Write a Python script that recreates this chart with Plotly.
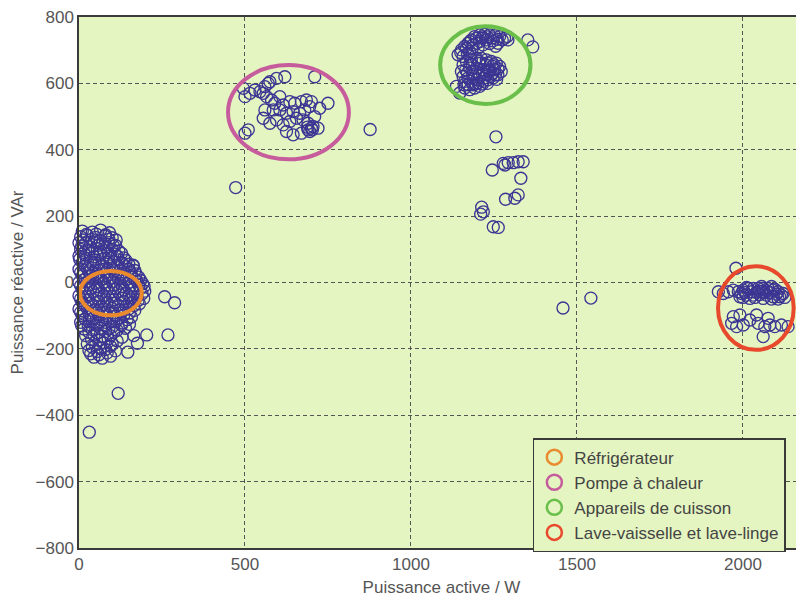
import plotly.graph_objects as go

# ---------------- data ----------------
fridge_pts = [
    (10,155),(40,152),(65,158),(92,150),
    (5,138),(25,142),(50,136),(78,140),(100,135),(112,128),
    (0,120),(20,118),(45,122),(70,116),(90,120),(110,112),
    (5,100),(30,98),(55,102),(75,96),(100,100),(120,95),
    (0,80),(20,82),(45,78),(65,84),(90,78),(115,80),(135,74),
    (10,60),(35,62),(60,58),(85,60),(105,64),(130,58),(150,55),(163,52),
    (0,40),(25,42),(50,38),(75,40),(100,42),(125,38),(150,40),(168,36),
    (10,20),(35,22),(60,18),(85,20),(110,22),(135,18),(160,20),(180,16),
    (0,0),(25,2),(50,-2),(75,0),(100,2),(125,-2),(150,0),(175,4),(192,-4),
    (10,-20),(35,-18),(60,-22),(85,-20),(110,-18),(135,-22),(160,-20),(185,-18),(198,-26),
    (0,-40),(25,-42),(50,-38),(75,-40),(100,-42),(125,-38),(150,-40),(175,-44),(195,-48),
    (10,-60),(35,-62),(60,-58),(85,-60),(110,-62),(135,-58),(160,-60),(182,-64),
    (0,-80),(25,-78),(50,-82),(75,-80),(100,-78),(125,-82),(150,-80),(168,-84),
    (10,-100),(35,-102),(60,-98),(85,-100),(110,-102),(135,-98),(158,-104),
    (5,-120),(30,-118),(55,-122),(80,-120),(105,-118),(130,-122),(152,-126),
    (15,-140),(40,-142),(65,-138),(90,-140),(115,-144),(140,-138),
    (20,-160),(45,-158),(70,-162),(95,-160),(130,-165),(165,-160),
    (25,-185),(50,-188),(75,-182),(100,-186),
    (30,-205),(55,-208),(80,-202),(110,-206),
    (45,-225),(70,-228),(95,-222),
]
fridge_pts_b = [
    (22,145),(52,146),(80,144),
    (12,128),(38,130),(64,126),(90,130),
    (8,110),(32,108),(58,112),(82,106),(104,110),
    (15,90),(40,92),(62,88),(88,90),(108,86),(128,88),
    (2,70),(22,72),(48,68),(72,70),(96,72),(120,68),(142,66),
    (18,50),(42,52),(68,48),(92,50),(115,52),(140,48),
    (5,30),(30,32),(55,28),(80,30),(105,32),(128,28),(155,30),(172,26),
    (18,10),(42,12),(68,8),(92,10),(118,12),(142,8),(168,10),(186,6),
    (5,-10),(30,-8),(55,-12),(80,-10),(105,-8),(130,-12),(155,-10),(180,-8),(196,-12),
    (18,-30),(42,-28),(68,-32),(92,-30),(118,-28),(142,-32),(168,-30),(190,-34),
    (5,-50),(30,-52),(55,-48),(80,-50),(105,-52),(130,-48),(155,-50),(178,-54),
    (18,-70),(42,-68),(68,-72),(92,-70),(118,-68),(142,-72),(165,-70),
    (5,-90),(30,-92),(55,-88),(80,-90),(105,-92),(130,-88),(152,-92),
    (18,-110),(42,-108),(68,-112),(92,-110),(118,-108),(145,-112),
    (8,-130),(28,-132),(52,-128),(78,-130),(102,-132),(128,-128),
    (30,-150),(55,-152),(80,-148),(105,-150),
    (38,-172),(62,-174),(88,-170),(115,-176),
    (40,-195),(65,-198),(95,-192),
    (35,-215),(60,-218),(85,-212),
]
fridge_outliers = [(258,-43),(288,-61),(268,-158),(204,-158),(176,-183),
                   (147,-210),(118,-334),(31,-451),(164,50)]

pump_pts = [
    (495,585),(515,570),(500,560),(545,575),(560,590),(575,605),(595,615),(620,620),
    (565,560),(580,550),(605,560),(590,540),(615,535),(635,545),(650,540),(670,545),
    (685,550),(700,545),(695,530),(680,520),(665,510),(645,515),(625,510),(605,520),
    (585,520),(560,520),(555,495),(575,480),(595,490),(615,475),(635,485),(655,495),
    (675,490),(690,480),(705,470),(720,465),(690,460),(670,450),(645,445),(625,455),
    (510,460),(500,450),(710,620),(750,540),(725,525),(710,500),(555,570),(530,580),
    (570,600),(700,465),(695,455),(703,460),(688,468),
]
pump_outliers = [(472,286),(877,461)]

cook_pts = [
    (1142,686),(1152,701),(1162,711),(1172,721),(1182,731),(1192,741),(1207,746),
    (1222,748),(1237,746),(1252,744),(1267,741),(1282,736),(1292,731),(1187,716),
    (1207,726),(1227,731),(1247,728),(1262,721),(1202,706),(1177,696),(1157,681),
    (1157,656),(1167,666),(1182,671),(1197,676),(1212,676),(1227,671),(1242,666),
    (1257,661),(1267,651),(1272,636),(1262,626),(1247,616),(1232,611),(1217,606),
    (1202,601),(1187,596),(1172,596),(1162,606),(1157,621),(1152,636),(1177,646),
    (1197,646),(1217,641),(1237,641),(1252,641),(1187,626),(1207,621),(1227,626),
    (1247,631),(1172,616),(1162,586),(1177,581),(1192,586),(1207,591),
    (1137,591),(1147,571),(1352,731),(1367,710),
    (1165,640),(1185,656),(1205,660),(1225,656),(1245,652),(1262,644),(1180,606),
    (1200,611),(1220,616),(1240,621),(1258,612),(1195,636),(1215,631),(1235,636),
    (1255,626),(1170,631),(1160,596),(1195,598),(1215,598),(1230,600),(1178,661),
    (1205,666),(1230,662),(1250,656),
    (1150,693),(1167,706),(1178,726),(1197,736),(1215,740),(1230,740),(1245,737),
    (1260,733),(1275,731),(1290,741),(1197,721),(1217,716),(1237,720),(1255,712),
    (1215,736),(1170,690),(1185,706),
]
mid_pts = [
    (1256,439),(1245,339),(1278,359),(1293,361),(1308,361),(1323,364),(1338,364),
    (1283,354),(1331,314),(1323,264),(1313,254),(1285,251),(1213,227),(1218,213),
    (1210,206),(1248,168),(1263,166),(1458,-77),(1542,-47),
]
wash_pts = [
    (1979,43),(1926,-28),(1941,-33),(1956,-28),(1971,-23),(1986,-28),(2001,-23),
    (2016,-18),(2031,-18),(2046,-18),(2061,-18),(2076,-18),(2091,-23),(2106,-28),
    (2121,-33),(1991,-43),(2011,-38),(2031,-38),(2051,-36),(2071,-38),(2091,-43),
    (2111,-43),(2021,-48),(2061,-48),(1971,-103),(1991,-98),(1966,-123),(1981,-133),
    (2001,-128),(2021,-113),(2046,-123),(2066,-133),(2081,-128),(2096,-133),
    (2116,-128),(2136,-133),(2061,-163),(2041,-98),(2076,-108),
    (1996,-33),(2006,-30),(2026,-28),(2041,-30),(2056,-28),(2066,-30),(2081,-30),
    (2101,-35),(2116,-38),(2036,-45),(2086,-50),(2106,-50),(2126,-45),(2000,-45),
    (2048,-26),(2071,-25),(2096,-20),(2011,-15),(2056,-12),(2086,-12),
]

legend_names = ["Réfrigérateur", "Pompe à chaleur", "Appareils de cuisson",
                "Lave-vaisselle et lave-linge"]
legend_colors = ["#e98a2e", "#c65c9c", "#6abf4b", "#e8482c"]
# ellipse bounds (x0, x1, y0, y1) in data units
ellipses = [(3, 189, -99, 35), (449, 813, 371, 655), (1088, 1360, 538, 772),
            (1925, 2153, -203, 49)]

x_ticks = [0, 500, 1000, 1500, 2000]
y_ticks = [-800, -600, -400, -200, 0, 200, 400, 600, 800]

# ---------------- figure ----------------
all_pts = (fridge_pts + fridge_pts_b + fridge_outliers + pump_pts + pump_outliers
           + cook_pts + mid_pts + wash_pts)
xs = [p[0] for p in all_pts]
ys = [p[1] for p in all_pts]

fig = go.Figure()
fig.add_trace(go.Scatter(
    x=xs, y=ys, mode="markers", showlegend=False, cliponaxis=False,
    marker=dict(symbol="circle-open", size=12, color="#3d3593",
                line=dict(width=1.35, color="#3d3593")),
))
for name, col in zip(legend_names, legend_colors):
    fig.add_trace(go.Scatter(
        x=[None], y=[None], mode="markers", name=name,
        marker=dict(symbol="circle-open", size=15, color=col,
                    line=dict(width=2.5, color=col)),
    ))

for (x0, x1, y0, y1), col in zip(ellipses, legend_colors):
    fig.add_shape(type="circle", xref="x", yref="y", x0=x0, x1=x1, y0=y0, y1=y1,
                  line=dict(color=col, width=4), layer="above")

font_fam = "Liberation Sans, Arial, sans-serif"
axis_common = dict(showline=True, mirror=True, linecolor="#3a3a3a", linewidth=1.5,
                   showgrid=True, gridcolor="#555555", gridwidth=1,
                   griddash="4px,3px", zeroline=False, ticks="", ticklen=0,
                   automargin=False, ticklabeloverflow="allow",
                   tickfont=dict(size=17, color="#555555", family=font_fam))

# the page body adds an 8px offset, so the figure is 8px smaller than the window
fig.update_layout(
    width=796, height=595,
    margin=dict(l=71, r=0, t=9, b=55),
    paper_bgcolor="#ffffff",
    plot_bgcolor="#e4f5c1",
    font=dict(family=font_fam, size=17, color="#555555"),
    xaxis=dict(range=[0, 2184], tickvals=x_ticks, ticklabelstandoff=0,
               title=dict(text="Puissance active / W", standoff=8,
                          font=dict(size=17, color="#555555")),
               **axis_common),
    yaxis=dict(range=[-800, 800], tickvals=y_ticks, ticklabelstandoff=0,
               title=dict(text="Puissance réactive / VAr", standoff=10,
                          font=dict(size=17, color="#555555")),
               **axis_common),
    legend=dict(x=0.626, y=0.207, xanchor="left", yanchor="top",
                bgcolor="#e4f5c1", bordercolor="#3a3a3a", borderwidth=1.5,
                font=dict(size=17, color="#444444", family=font_fam),
                tracegroupgap=0, itemsizing="trace"),
)

fig.write_html("out.html")
